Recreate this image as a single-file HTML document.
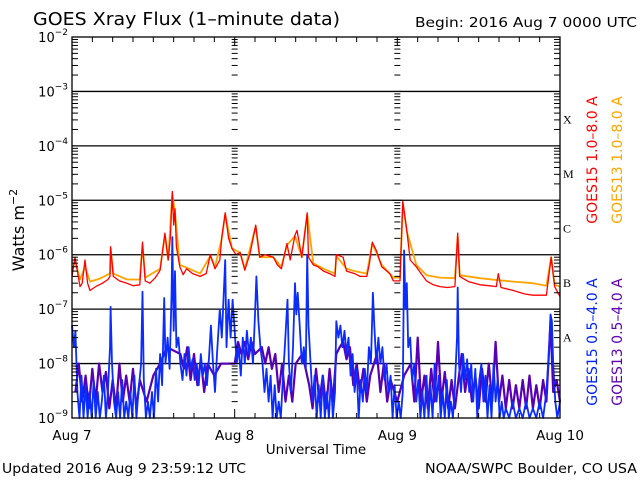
<!DOCTYPE html>
<html><head><meta charset="utf-8">
<style>
html,body{margin:0;padding:0;background:#fff;}
svg{display:block;font-family:"DejaVu Sans","Liberation Sans",sans-serif;}
</style></head>
<body>
<svg id="chart" width="640" height="480" viewBox="0 0 640 480">
<text x="33" y="25" font-size="18" textLength="307" lengthAdjust="spacingAndGlyphs">GOES Xray Flux (1–minute data)</text>
<text x="415" y="27" font-size="13.5" textLength="222" lengthAdjust="spacingAndGlyphs">Begin:  2016 Aug 7 0000 UTC</text>
<text transform="translate(24,230) rotate(-90)" text-anchor="middle" font-size="16">Watts m<tspan dy="-7" font-size="11">−2</tspan></text>
<text x="316" y="454" text-anchor="middle" font-size="13.5">Universal Time</text>
<text x="2" y="473" font-size="13.5" textLength="244" lengthAdjust="spacingAndGlyphs">Updated 2016 Aug  9 23:59:12 UTC</text>
<text x="425" y="473" font-size="13.5" textLength="212" lengthAdjust="spacingAndGlyphs">NOAA/SWPC Boulder, CO USA</text>
<g id="legend" font-size="14">
<text transform="translate(597,160) rotate(-90)" text-anchor="middle" fill="#ff0000">GOES15 1.0–8.0 A</text>
<text transform="translate(622,160) rotate(-90)" text-anchor="middle" fill="#ffa500">GOES13 1.0–8.0 A</text>
<text transform="translate(597,342) rotate(-90)" text-anchor="middle" fill="#0020ff">GOES15 0.5–4.0 A</text>
<text transform="translate(622,342) rotate(-90)" text-anchor="middle" fill="#6000b0">GOES13 0.5–4.0 A</text>
</g>
<g id="grid"></g>
<g id="series"></g>
<g id="axes"></g>
</svg>
<script>
const dayLabels=["Aug 7","Aug 8","Aug 9","Aug 10"];
const yExponents=[-2,-3,-4,-5,-6,-7,-8,-9];
const classLabels=["X","M","C","B","A"];
const classExps=[-3.5,-4.5,-5.5,-6.5,-7.5];

const redHours=[0,0.44,1.18,1.5,1.92,2.3,2.65,3.5,4.5,5.3,5.6,5.7,6.1,7,8.1,9,10,10.4,10.8,11.5,12.3,13,13.7,14.2,14.5,14.8,15,15.2,15.4,15.9,16.4,16.9,17.8,18.9,19.8,20.4,21.1,21.8,22.1,22.6,23.1,23.6,24.2,24.8,25.5,26.3,27.1,27.7,28.5,29.7,30.3,30.9,31.7,32.2,32.9,33.2,33.9,34.7,34.9,35.6,36.3,37.1,38,38.8,39,40,40.5,41.7,42.5,43.5,43.9,44.3,44.9,45.7,46.9,47.4,48.4,48.8,49.4,49.9,50.8,51.5,52.3,53.3,54.3,55.4,56.5,56.9,57.2,58.5,60.2,61.5,62.6,62.9,63.3,65.1,66.8,68,69,70,70.7,71.2,72];
const redValues=[4e-7,9e-7,2.6e-7,3e-7,8e-7,3e-7,2.2e-7,2.6e-7,3e-7,3.5e-7,4e-7,1.4e-6,4e-7,3.3e-7,3e-7,2.7e-7,2.8e-7,1.7e-6,3.3e-7,3e-7,3.8e-7,5.2e-7,2.5e-6,8e-7,2e-6,1.45e-5,3.5e-6,7e-6,1.4e-6,6e-7,4.3e-7,5.5e-7,4.5e-7,4e-7,4.5e-7,1e-6,5.5e-7,8e-7,2.1e-6,5.9e-6,2e-6,1.3e-6,1e-6,1.1e-6,5.2e-7,1.1e-6,3.5e-6,9e-7,1e-6,9e-7,6.5e-7,5.5e-7,1.6e-6,8e-7,2.3e-6,2.8e-6,9e-7,5.9e-6,9e-7,6.5e-7,6e-7,5e-7,4.5e-7,4e-7,1e-6,9e-7,5e-7,4.5e-7,4e-7,4e-7,7e-7,1.7e-6,1.2e-6,6e-7,4.5e-7,3.3e-7,3.3e-7,9.5e-6,2.8e-6,8e-7,6e-7,4.5e-7,3.3e-7,2.8e-7,2.6e-7,2.5e-7,2.6e-7,2.5e-6,4e-7,3.2e-7,2.8e-7,2.7e-7,2.6e-7,4.5e-7,2.5e-7,2.2e-7,1.9e-7,1.8e-7,1.8e-7,1.8e-7,9e-7,2.6e-7,1.7e-7];

const orangeHours=[0,0.44,1.18,1.92,2.65,4,5.6,5.7,6.1,8.1,10,10.4,10.8,13,13.7,14.2,14.8,15.2,15.9,16.9,18.9,20.4,21.1,22.1,22.6,23.6,24.8,25.5,27.1,27.7,29.7,30.9,31.7,32.9,33.9,34.7,35.6,37.1,38.8,39,40.5,41.7,43.5,44.3,45.7,47.4,48.4,48.8,49.4,50.8,52.3,54.3,56.5,56.9,57.2,60.2,62.9,65.1,68,70,70.7,71.2,72];
const orangeValues=[5e-7,8e-7,3.5e-7,6e-7,3.2e-7,3.6e-7,4.5e-7,1.3e-6,4.5e-7,3.5e-7,3.5e-7,1.5e-6,3.8e-7,5.5e-7,2.3e-6,8e-7,1.3e-5,6e-6,6.5e-7,5.8e-7,4.5e-7,9.5e-7,6e-7,2e-6,5.5e-6,1.3e-6,1.1e-6,5.5e-7,3.3e-6,9e-7,9e-7,6e-7,1.5e-6,2.2e-6,9e-7,5.5e-6,7e-7,5.5e-7,4.5e-7,9.5e-7,5.5e-7,5e-7,4.5e-7,1.6e-6,6.5e-7,3.8e-7,3.8e-7,9e-6,2.7e-6,6.5e-7,4.2e-7,3.8e-7,3.7e-7,2.2e-6,4.2e-7,3.7e-7,3.4e-7,3.2e-7,3e-7,2.7e-7,9e-7,2.8e-7,2.6e-7];

const blueHours=[0,0.3,0.5,0.8,1.1,1.4,1.7,2.0,2.3,2.6,2.9,3.2,3.5,3.8,4.1,4.4,4.7,5.0,5.3,5.6,5.7,5.9,6.2,6.5,6.8,7.1,7.4,7.7,8.0,8.3,8.6,8.9,9.2,9.5,9.8,10.2,10.4,10.6,10.9,11.2,11.5,11.8,12.1,12.4,12.7,13.0,13.3,13.6,13.8,14.1,14.4,14.7,14.8,15.0,15.2,15.4,15.7,16.0,16.3,16.6,16.9,17.2,17.5,17.8,18.1,18.4,18.7,19.0,19.3,19.6,19.9,20.2,20.5,20.8,21.1,21.4,21.8,22.1,22.4,22.6,22.8,23.1,23.4,23.7,24.0,24.3,24.6,24.9,25.2,25.5,25.8,26.1,26.4,26.7,27.0,27.2,27.5,27.8,28.1,28.4,28.7,29.0,29.3,29.6,29.9,30.2,30.5,30.8,31.1,31.4,31.8,32.0,32.3,32.6,32.9,33.1,33.3,33.6,33.9,34.2,34.5,34.7,34.9,35.2,35.5,35.8,36.1,36.4,36.7,37.0,37.3,37.6,37.9,38.2,38.5,38.8,39.0,39.3,39.6,39.9,40.2,40.5,40.8,41.1,41.4,41.7,42.0,42.3,42.6,42.9,43.2,43.5,43.8,44.1,44.4,44.6,44.9,45.2,45.5,45.8,46.1,46.4,46.7,47.0,47.3,47.6,47.9,48.2,48.5,48.8,49.0,49.2,49.4,49.6,49.9,50.2,50.5,50.8,51.1,51.4,51.7,52.0,52.3,52.6,52.9,53.2,53.5,53.8,54.1,54.4,54.7,55.0,55.3,55.6,55.9,56.2,56.5,56.8,56.9,57.1,57.4,57.7,58.0,58.3,58.6,58.9,59.2,59.5,59.8,60.1,60.4,60.7,61.0,61.3,61.6,61.9,62.2,62.5,62.8,63.1,63.4,63.7,64.0,64.5,65.0,65.5,66.0,66.5,67.0,67.5,68.0,68.5,69.0,69.5,70.0,70.4,70.6,70.8,71.0,71.3,71.6,72.0];
const blueValues=[5e-8,2e-8,4e-8,3e-9,1e-9,6e-9,1e-9,4e-9,1e-9,3e-9,8e-10,5e-9,1e-9,3e-9,8e-10,2e-9,6e-9,1e-9,3e-9,2e-8,1.1e-7,1e-8,2e-9,8e-10,3e-9,1e-9,5e-9,8e-10,2e-9,8e-10,3e-9,1e-9,6e-9,1e-9,3e-9,1e-8,2.1e-7,5e-9,8e-10,2e-9,8e-10,3e-9,1e-9,8e-9,2e-9,1.5e-8,4e-9,1.6e-7,1e-8,3e-8,8e-9,2e-7,2.1e-6,4e-8,5e-7,2e-8,3e-8,1e-8,5e-9,1.5e-8,6e-9,2e-8,8e-9,1.2e-8,5e-9,1e-8,4e-9,1.5e-8,6e-9,1e-8,4e-9,1.2e-8,5e-8,1e-8,3e-9,1.5e-8,1e-7,3e-8,2e-7,8e-7,2e-8,1.5e-7,3e-8,1.5e-7,4e-8,1e-8,2e-8,6e-9,3e-8,1e-8,4e-8,1.5e-8,3e-8,1e-8,8e-8,4e-7,6e-8,2e-8,1e-8,3e-9,8e-9,2e-9,6e-9,1e-9,4e-9,8e-10,2e-9,8e-10,5e-9,2e-8,1.5e-7,1e-8,3e-9,2e-8,3e-7,8e-8,2e-7,5e-8,1e-8,2e-8,8e-9,1e-6,5e-8,1e-8,2e-9,6e-9,8e-10,4e-9,1e-9,6e-9,8e-10,3e-9,1e-9,5e-9,8e-10,3e-9,6e-8,3e-8,5e-8,2e-8,4e-8,1.5e-8,3e-8,6e-9,1.5e-8,3e-9,8e-9,1e-9,5e-9,2e-9,8e-9,3e-9,2e-8,1e-8,2e-7,5e-8,1e-8,3e-8,1e-8,2e-8,5e-9,1e-8,3e-9,6e-9,1e-9,4e-9,8e-10,2e-9,8e-10,3e-9,1.2e-6,1e-7,3e-7,2e-8,3e-8,5e-9,1e-8,2e-9,5e-9,8e-10,3e-9,8e-10,6e-9,1e-9,4e-9,8e-10,1e-8,2e-9,6e-9,8e-10,3e-9,1e-9,5e-9,8e-10,2e-9,8e-10,4e-9,3e-8,2.5e-7,1e-8,3e-9,1.5e-8,5e-9,1.2e-8,3e-9,1e-8,2e-9,8e-9,1e-9,5e-9,1e-8,2e-9,6e-9,1e-9,4e-9,8e-10,1e-8,2e-9,5e-9,8e-10,2e-9,8e-10,1.5e-9,8e-10,2e-9,8e-10,1.5e-9,8e-10,2e-9,8e-10,1.5e-9,8e-10,2e-9,8e-10,3e-9,2e-8,8e-8,6e-8,1e-8,2e-9,8e-10,2e-9];

const purpleHours=[0.5,1,1.5,2,2.5,3,3.5,4,4.5,5,5.5,6,6.5,7,7.5,8,8.5,9,9.5,10,11,12,13,14,16,16.5,17,17.5,18,18.5,19,19.5,20,21,22,24,24.5,25,25.5,26,26.5,27,28,28.5,29,29.5,30,30.5,31,31.5,32,32.5,33,34,35,35.5,36,36.5,37,37.5,38,38.5,39,39.5,40,40.5,41,41.5,42,42.5,43,43.5,44,45,45.5,46,46.5,47,48,49,50,50.5,51,51.5,52,52.5,53,53.5,54,54.5,55,55.5,56,56.5,57.5,58,58.5,59,59.5,60,60.5,61,61.5,62,62.5,63,63.5,64,64.5,65,65.5,66,66.5,67,67.5,68,68.5,69,69.5,70,70.6,71,71.5,72];
const purpleValues=[3e-9,1e-8,2e-9,6e-9,1.5e-9,8e-9,2e-9,1e-8,3e-9,7e-9,1.5e-9,5e-9,1.5e-9,1e-8,2e-9,6e-9,2e-9,8e-9,1.5e-9,5e-9,2e-9,6e-9,1e-8,2e-8,1.5e-8,8e-9,2e-8,5e-9,1.5e-8,4e-9,1.2e-8,3e-9,1e-8,6e-9,1e-8,1e-8,2.5e-8,1.5e-8,2.5e-8,1.2e-8,2.5e-8,1.5e-8,2e-8,1e-8,2e-8,8e-9,1.5e-8,3e-9,1e-8,2e-9,6e-9,2e-9,1e-8,1.5e-8,4e-9,1.5e-9,8e-9,2e-9,6e-9,1.5e-9,8e-9,2e-9,1.5e-8,2e-8,2.5e-8,1.2e-8,2e-8,4e-9,1e-8,3e-9,8e-9,2e-9,6e-9,1.5e-8,3e-9,1e-8,2e-9,5e-9,2e-9,6e-9,1e-8,2e-9,3e-8,2e-9,6e-9,1.5e-9,8e-9,2e-9,2.5e-8,2e-9,7e-9,1.5e-9,5e-9,1.5e-9,1.5e-8,3e-9,8e-9,2e-9,6e-9,1.5e-9,8e-9,2e-9,1e-8,2e-9,2.5e-8,2e-9,6e-9,1.5e-9,5e-9,1.5e-9,4e-9,1.5e-9,5e-9,1.5e-9,6e-9,1.5e-9,4e-9,1.5e-9,5e-9,2e-9,6e-8,3e-9,5e-9,2e-9];

const NS='http://www.w3.org/2000/svg';
const X0=72,X1=560,YT=37,YB=418;
function xScale(h){return X0+(X1-X0)*h/72;}
function yScale(v){let l=Math.log10(v);if(l<-9)l=-9;if(l>-2)l=-2;return YB-(l+9)*(YB-YT)/7;}
function yExp(e){return YB-(e+9)*(YB-YT)/7;}
function mk(tag,attrs,parent){const e=document.createElementNS(NS,tag);for(const k in attrs)e.setAttribute(k,attrs[k]);parent.appendChild(e);return e;}
const grid=document.getElementById('grid'),axes=document.getElementById('axes'),series=document.getElementById('series');

yExponents.forEach(function(e){
  if(e===-2||e===-9)return;
  const l=mk('line',{x1:X0,x2:X1,y1:yExp(e),y2:yExp(e),stroke:'#000','stroke-width':1.3},grid);
  
  
});
yExponents.forEach(function(e){
  const t=mk('text',{x:X0-4,y:yExp(e)+5,'text-anchor':'end','font-size':13},axes);
  
  
  t.appendChild(document.createTextNode('10'));
  const s=mk('tspan',{dy:-7,'font-size':9},t);s.textContent='−'+(-e);
});
for(let e=-9;e<-2;e++){
  for(let m=2;m<=9;m++){
    const y=yScale(m*Math.pow(10,e));
    mk('line',{x1:X0,x2:X0+6,y1:y,y2:y,stroke:'#000'},axes);
    mk('line',{x1:X1-6,x2:X1,y1:y,y2:y,stroke:'#000'},axes);
    [1,2].forEach(function(d){const x=xScale(d*24);mk('line',{x1:x-3,x2:x+3,y1:y,y2:y,stroke:'#000'},axes);});
  }
  [1,2].forEach(function(d){const x=xScale(d*24);const y=yExp(e);mk('line',{x1:x-5,x2:x+5,y1:y,y2:y,stroke:'#000'},axes);});
}
for(let h=0;h<=72;h+=3){
  const x=xScale(h);const len=(h%24===0)?9:5;
  mk('line',{x1:x,x2:x,y1:YB,y2:YB-len,stroke:'#000'},axes);
  mk('line',{x1:x,x2:x,y1:YT,y2:YT+len,stroke:'#000'},axes);
}
dayLabels.forEach(function(lab,i){
  const t=mk('text',{x:xScale(i*24),y:440,'text-anchor':'middle','font-size':13.5},axes);
  
  
  t.textContent=lab;
});
classLabels.forEach(function(lab,i){
  const t=mk('text',{x:X1+3,y:yExp(classExps[i])+5,'font-size':12,'font-family':'Liberation Serif, serif'},axes);
  
  
  t.textContent=lab;
});
const frame=mk('rect',{x:X0,y:YT,width:X1-X0,height:YB-YT,fill:'none',stroke:'#000','stroke-width':1.3},axes);



function drawSeries(hours,values,color,name,w){
  let d='';
  for(let i=0;i<hours.length;i++){d+=(i?'L':'M')+xScale(hours[i]).toFixed(1)+' '+yScale(values[i]).toFixed(1);}
  const p=mk('path',{d:d,fill:'none',stroke:color,'stroke-width':w,'stroke-linejoin':'round'},series);
  
  
}
drawSeries(purpleHours,purpleValues,'#5a00b4','goes13-short-series',2.2);
drawSeries(blueHours,blueValues,'#0a2cff','goes15-short-series',1.8);
drawSeries(orangeHours,orangeValues,'#ffa500','goes13-long-series',1.8);
drawSeries(redHours,redValues,'#ff0000','goes15-long-series',1.3);
</script>
</body></html>
